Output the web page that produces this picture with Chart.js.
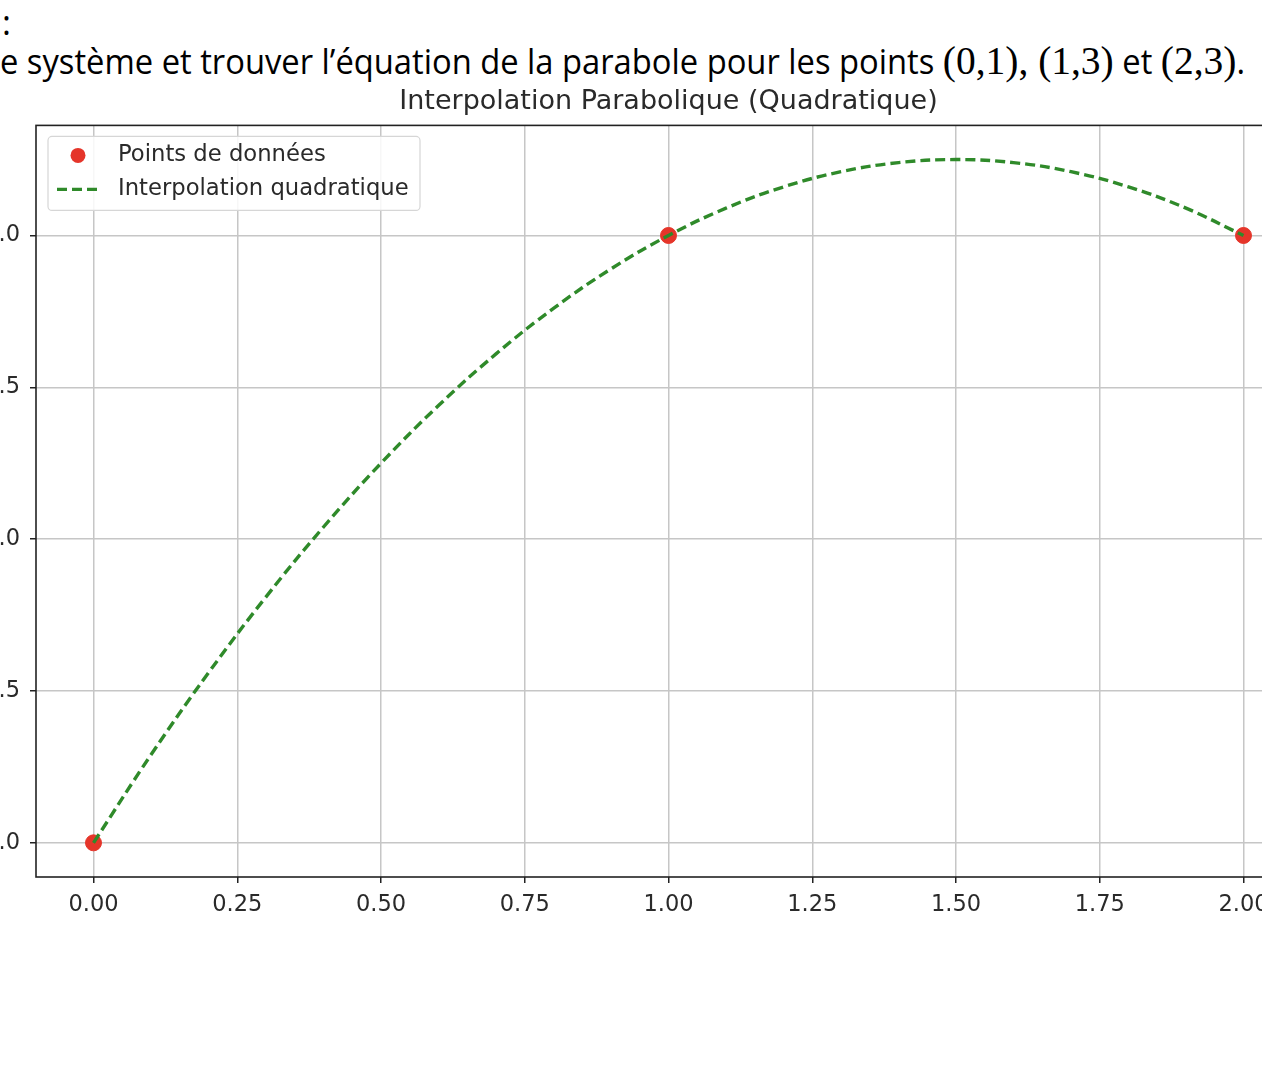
<!DOCTYPE html>
<html lang="fr">
<head>
<meta charset="utf-8">
<title>Interpolation Parabolique (Quadratique)</title>
<script src="https://cdn.jsdelivr.net/npm/chart.js@4/dist/chart.umd.min.js"></script>
<style>
  html, body { margin: 0; padding: 0; background: #fff; overflow: hidden; }
  body { width: 1262px; height: 1088px; position: relative; }
  .colon { position: absolute; left: 2px; top: -1px; font: 34px "Open Sans", sans-serif; color: #000; }
  .line { position: absolute; left: 0; top: 36px; white-space: nowrap; transform-origin: 0 0;
          font: 34px "Open Sans", sans-serif; color: #000; }
  .math { font-family: "Liberation Serif", serif; font-size: 41px; }
  #wrap { position: absolute; left: -64px; top: 70px; width: 1465px; height: 867px; }
</style>
</head>
<body>
<div class="colon">:</div>
<div class="line" id="line">e système et trouver l’équation de la parabole pour les points <span class="math">(0,1), (1,3)</span> et <span class="math">(2,3)</span>.</div>
<div id="wrap"><canvas id="chart" width="1465" height="867"></canvas></div>
<script>
// Points de données
const pointsX = [0, 1, 2];
const pointsY = [1, 3, 3];

// Courbe (pas 0.1)
const curveX = [0, 0.1, 0.2, 0.3, 0.4, 0.5, 0.6, 0.7, 0.8, 0.9, 1.0,
                1.1, 1.2, 1.3, 1.4, 1.5, 1.6, 1.7, 1.8, 1.9, 2.0];
const curveY = [1.00, 1.29, 1.56, 1.81, 2.04, 2.25, 2.44, 2.61, 2.76, 2.89, 3.00,
                3.09, 3.16, 3.21, 3.24, 3.25, 3.24, 3.21, 3.16, 3.09, 3.00];

const xTicks = [0, 0.25, 0.5, 0.75, 1.0, 1.25, 1.5, 1.75, 2.0];
const yTicks = [1.0, 1.5, 2.0, 2.5, 3.0];

const RED = '#e5352a';
const GREEN = '#2f8a2a';
const TEXT = '#2a2a2a';

// fit the top text line to its width in the screenshot
const line = document.getElementById('line');
line.style.transform = 'scaleX(' + (1245 / line.getBoundingClientRect().width) + ')';

// frame + legend box drawn inside the plot, like matplotlib
const framePlugin = {
    id: 'frame',
    beforeDatasetsDraw(chart) {
        const { ctx, chartArea: a } = chart;
        ctx.save();
        ctx.strokeStyle = '#222';
        ctx.lineWidth = 1.6;
        ctx.strokeRect(a.left, a.top, a.right - a.left, a.bottom - a.top);
        ctx.restore();
    },
    afterDatasetsDraw(chart) {
        const { ctx, chartArea: a } = chart;
        const x = a.left + 12, y = a.top + 11, w = 372, h = 74;
        ctx.save();
        ctx.beginPath();
        ctx.roundRect(x, y, w, h, 4);
        ctx.fillStyle = 'rgba(255,255,255,0.85)';
        ctx.fill();
        ctx.strokeStyle = '#d6d6d6';
        ctx.lineWidth = 1.2;
        ctx.stroke();

        ctx.font = '22.7px "DejaVu Sans"';
        ctx.fillStyle = TEXT;
        ctx.textBaseline = 'middle';
        const ds = chart.data.datasets;
        const pts = ds.find(d => d.id === 'pts');
        const cur = ds.find(d => d.id === 'curve');

        ctx.beginPath();
        ctx.arc(x + 30, y + 19, 7.5, 0, Math.PI * 2);
        ctx.fillStyle = RED;
        ctx.fill();
        ctx.fillStyle = TEXT;
        ctx.fillText(pts.label, x + 70, y + 19);

        ctx.beginPath();
        ctx.setLineDash([10, 5]);
        ctx.strokeStyle = GREEN;
        ctx.lineWidth = 3.4;
        ctx.moveTo(x + 9, y + 53);
        ctx.lineTo(x + 53, y + 53);
        ctx.stroke();
        ctx.setLineDash([]);
        ctx.fillText(cur.label, x + 70, y + 53);
        ctx.restore();
    }
};

new Chart(document.getElementById('chart'), {
    type: 'scatter',
    data: {
        datasets: [{
            id: 'curve',
            label: 'Interpolation quadratique',
            data: curveX.map((x, i) => ({ x, y: curveY[i] })),
            showLine: true,
            borderColor: GREEN,
            borderWidth: 3.4,
            borderDash: [10, 5],
            tension: 0.4,
            pointRadius: 0,
            order: 0
        }, {
            id: 'pts',
            label: 'Points de données',
            data: pointsX.map((x, i) => ({ x, y: pointsY[i] })),
            backgroundColor: RED,
            borderColor: RED,
            pointRadius: 8,
            order: 1
        }]
    },
    options: {
        responsive: false,
        animation: false,
        layout: { padding: { left: 0, right: 100, top: 0, bottom: 0 } },
        plugins: {
            legend: { display: false },
            tooltip: { enabled: false },
            title: {
                display: true,
                text: 'Interpolation Parabolique (Quadratique)',
                fullSize: false,
                color: TEXT,
                font: { family: 'DejaVu Sans', size: 27, weight: 'normal' },
                padding: { top: 16, bottom: 7 }
            }
        },
        scales: {
            x: {
                type: 'linear',
                min: -0.1,
                max: 2.1,
                afterBuildTicks: s => { s.ticks = xTicks.map(v => ({ value: v })); },
                afterFit: s => { s.height = 60; },
                ticks: {
                    color: TEXT,
                    font: { family: 'DejaVu Sans', size: 22.5 },
                    padding: 9,
                    maxRotation: 0,
                    callback: v => v.toFixed(2)
                },
                grid: { color: '#c6c6c6', lineWidth: 1.5, tickColor: '#222', tickLength: 6, tickWidth: 1.5 },
                border: { display: false }
            },
            y: {
                min: 0.8875,
                max: 3.3625,
                afterBuildTicks: s => { s.ticks = yTicks.map(v => ({ value: v })); },
                afterFit: s => { s.width = 100; },
                ticks: {
                    color: TEXT,
                    font: { family: 'DejaVu Sans', size: 22.5 },
                    padding: 10,
                    callback: v => v.toFixed(1)
                },
                grid: { color: '#c6c6c6', lineWidth: 1.5, tickColor: '#222', tickLength: 6, tickWidth: 1.5 },
                border: { display: false }
            }
        }
    },
    plugins: [framePlugin]
});
</script>
</body>
</html>
